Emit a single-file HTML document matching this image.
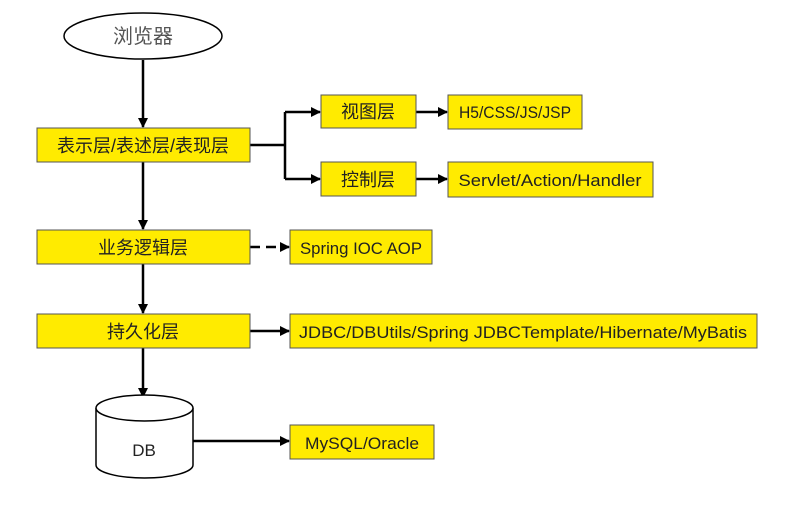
<!DOCTYPE html>
<html><head><meta charset="utf-8"><style>
html,body{margin:0;padding:0;background:#fff;}
svg{display:block;}
text{font-family:"Liberation Sans","Noto Sans CJK SC",sans-serif;font-size:17px;fill:#222;}
.c{font-size:18px;}
</style></head><body>
<svg width="808" height="505" viewBox="0 0 808 505" xmlns="http://www.w3.org/2000/svg">
<defs>
<marker id="a" markerWidth="10" markerHeight="10" refX="9" refY="5" orient="auto" markerUnits="userSpaceOnUse">
<path d="M0,0 L10,5 L0,10 z" fill="#000"/></marker>
</defs>
<g stroke="#000" stroke-width="2.5" fill="none">
<line x1="143" y1="60" x2="143" y2="127" marker-end="url(#a)"/>
<line x1="143" y1="162" x2="143" y2="229" marker-end="url(#a)"/>
<line x1="143" y1="264" x2="143" y2="313" marker-end="url(#a)"/>
<line x1="143" y1="348" x2="143" y2="397" marker-end="url(#a)"/>
<polyline points="250,145 285,145"/>
<polyline points="285,112 285,179"/>
<line x1="285" y1="112" x2="320" y2="112" marker-end="url(#a)"/>
<line x1="285" y1="179" x2="320" y2="179" marker-end="url(#a)"/>
<line x1="416" y1="112" x2="447" y2="112" marker-end="url(#a)"/>
<line x1="416" y1="179" x2="447" y2="179" marker-end="url(#a)"/>
<line x1="250" y1="247" x2="289" y2="247" stroke-dasharray="10,6" marker-end="url(#a)"/>
<line x1="250" y1="331" x2="289" y2="331" marker-end="url(#a)"/>
<line x1="193" y1="441" x2="289" y2="441" marker-end="url(#a)"/>
</g>
<ellipse cx="143" cy="36" rx="79" ry="23" fill="#fff" stroke="#000" stroke-width="1.5"/>
<text x="143" y="43" text-anchor="middle" style="font-size:20px;fill:#555">浏览器</text>
<g fill="#ffeb00" stroke="#555" stroke-width="1">
<rect x="37" y="128" width="213" height="34"/>
<rect x="321" y="95" width="95" height="33"/>
<rect x="321" y="162" width="95" height="34"/>
<rect x="448" y="95" width="134" height="34"/>
<rect x="448" y="162" width="205" height="35"/>
<rect x="37" y="230" width="213" height="34"/>
<rect x="290" y="230" width="142" height="34"/>
<rect x="37" y="314" width="213" height="34"/>
<rect x="290" y="314" width="467" height="34"/>
<rect x="290" y="425" width="144" height="34"/>
</g>
<g text-anchor="middle">
<text class="c" x="143" y="152">表示层/表述层/表现层</text>
<text class="c" x="368" y="118">视图层</text>
<text class="c" x="368" y="186">控制层</text>
<text x="515" y="118" textLength="112" lengthAdjust="spacingAndGlyphs">H5/CSS/JS/JSP</text>
<text x="550" y="186" textLength="183" lengthAdjust="spacingAndGlyphs">Servlet/Action/Handler</text>
<text class="c" x="143" y="254">业务逻辑层</text>
<text x="361" y="254" textLength="122" lengthAdjust="spacingAndGlyphs">Spring IOC AOP</text>
<text class="c" x="143" y="338">持久化层</text>
<text x="523" y="338" textLength="448" lengthAdjust="spacingAndGlyphs">JDBC/DBUtils/Spring JDBCTemplate/Hibernate/MyBatis</text>
<text x="362" y="449" textLength="114" lengthAdjust="spacingAndGlyphs">MySQL/Oracle</text>
</g>
<path d="M96,408 L96,465 A48.5,13 0 0 0 193,465 L193,408" fill="#fff" stroke="#000" stroke-width="1.5"/>
<ellipse cx="144.5" cy="408" rx="48.5" ry="13" fill="#fff" stroke="#000" stroke-width="1.5"/>
<text x="144" y="456" text-anchor="middle">DB</text>
</svg>
</body></html>
